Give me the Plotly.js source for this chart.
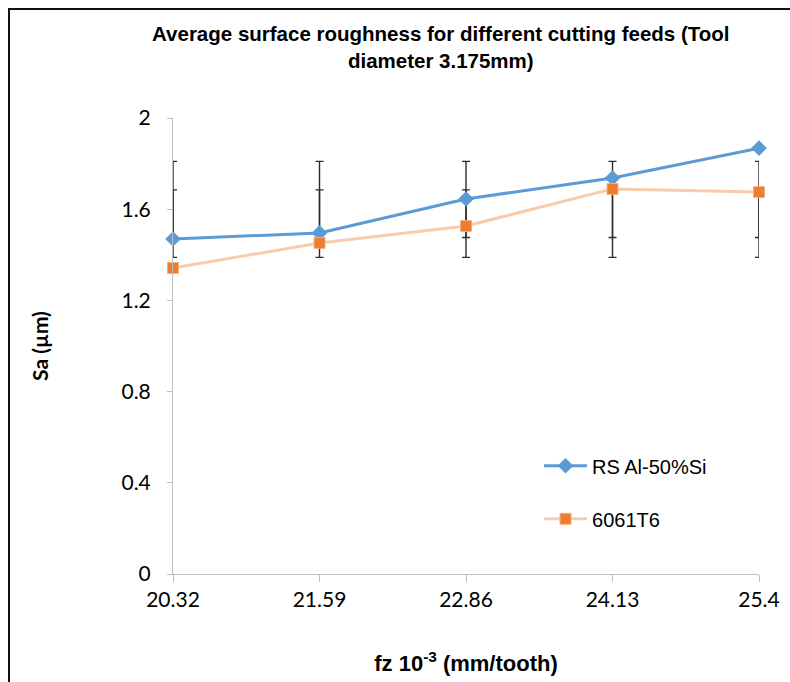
<!DOCTYPE html>
<html>
<head>
<meta charset="utf-8">
<script src="https://cdn.plot.ly/plotly-3.0.1.min.js"></script>
<style>
  html, body { margin: 0; padding: 0; background: #fff; }
  #wrap { position: relative; width: 790px; height: 682px; overflow: hidden; }
  #chart { position: absolute; left: 0; top: 0; width: 790px; height: 682px; }
  #frame { position: absolute; left: 8px; top: 8px; width: 800px; height: 700px;
           border-left: 2px solid #111; border-top: 2px solid #111; pointer-events: none; }
</style>
</head>
<body>
<div id="wrap">
  <div id="chart"></div>
  <div id="frame"></div>
</div>
<script>
// Cutting feed per tooth (x 10^-3 mm/tooth)
const feeds = ["20.32", "21.59", "22.86", "24.13", "25.4"];
// Average surface roughness Sa (µm)
const saRS = [1.469, 1.496, 1.645, 1.737, 1.868];
const sa6061 = [1.342, 1.452, 1.526, 1.689, 1.675];
const yTicks = [0, 0.4, 0.8, 1.2, 1.6, 2];

// Standard-deviation error bars: centred on the series mean, one sample SD long
function mean(a) { return a.reduce((s, v) => s + v, 0) / a.length; }
function sd(a) {
  const m = mean(a);
  return Math.sqrt(a.reduce((s, v) => s + (v - m) * (v - m), 0) / (a.length - 1));
}

function sdBars(vals) {
  return {
    x: feeds,
    y: feeds.map(() => mean(vals)),
    type: "scatter",
    mode: "markers",
    marker: { size: 1, opacity: 0 },
    error_y: { type: "constant", value: sd(vals), visible: true,
               color: "#2b2b2b", thickness: 1.4, width: 4 },
    showlegend: false,
    hoverinfo: "skip",
    cliponaxis: false
  };
}

const traces = [
  sdBars(saRS),
  sdBars(sa6061),
  {
    x: feeds, y: saRS, name: "RS Al-50%Si", legendgroup: "a",
    type: "scatter", mode: "lines+markers", cliponaxis: false,
    line: { color: "#5B9BD5", width: 3 },
    marker: { symbol: "diamond", size: 12, color: "#5B9BD5" }
  },
  {
    x: feeds, y: sa6061, name: "6061T6", legendgroup: "b",
    type: "scatter", mode: "lines+markers", cliponaxis: false,
    line: { color: "#F8CBAD", width: 3 },
    marker: { symbol: "square", size: 11, color: "#ED7D31",
              line: { color: "#F4B183", width: 1 } }
  }
];

const tickFont = { family: "Lato, 'Open Sans', sans-serif", size: 21, color: "#000" };

const layout = {
  width: 790, height: 682,
  margin: { l: 173, r: 31, t: 118, b: 108 },
  paper_bgcolor: "#fff", plot_bgcolor: "#fff",
  title: {
    text: "Average surface roughness for different cutting feeds (Tool<br>diameter 3.175mm)",
    font: { family: "'Liberation Sans', Arial, sans-serif", size: 20.5, color: "#000", weight: "bold" },
    x: 0.457, xanchor: "center", xref: "paper",
    y: 0.94, yanchor: "top", yref: "container"
  },
  xaxis: {
    type: "category", range: [0, 4],
    showgrid: false, zeroline: false,
    showline: true, linecolor: "#BFBFBF", linewidth: 1,
    ticks: "outside", ticklen: 7, tickcolor: "#BFBFBF",
    tickfont: tickFont,
    title: { text: "<b>fz 10<sup>-3</sup> (mm/tooth)</b>",
             font: { family: "'Liberation Sans', Arial, sans-serif", size: 22, color: "#000" },
             standoff: 45 }
  },
  yaxis: {
    range: [0, 2], tickvals: yTicks, ticktext: yTicks.map(String),
    showgrid: false, zeroline: false,
    showline: true, linecolor: "#BFBFBF", linewidth: 1,
    ticks: "outside", ticklen: 5, tickcolor: "#BFBFBF",
    ticklabelstandoff: 12,
    tickfont: tickFont,
    title: { text: "<b>Sa (µm)</b>",
             font: { family: "Lato, 'Open Sans', sans-serif", size: 21, color: "#000" },
             standoff: 67 }
  },
  showlegend: true,
  legend: {
    x: 0.6246, xanchor: "left", y: 0.28, yanchor: "top",
    font: { family: "'Liberation Sans', Arial, sans-serif", size: 20, color: "#000" },
    bgcolor: "rgba(0,0,0,0)", itemwidth: 43,
    traceorder: "grouped", tracegroupgap: 24
  }
};

Plotly.newPlot("chart", traces, layout, { displayModeBar: false, staticPlot: true });
</script>
</body>
</html>
